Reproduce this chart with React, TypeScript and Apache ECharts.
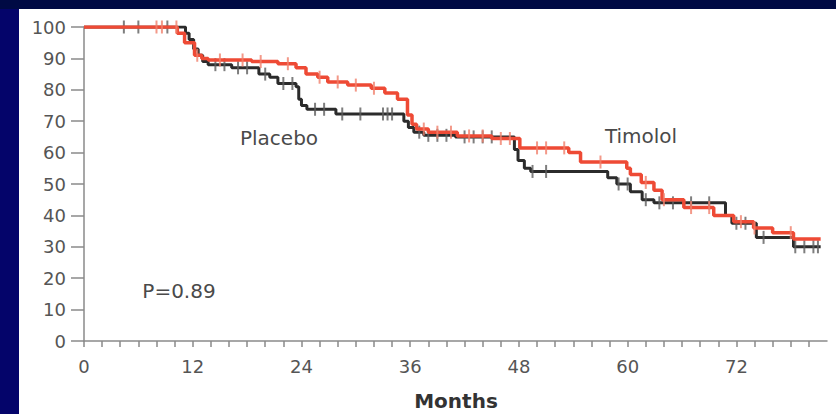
import React, { useEffect, useRef } from "react";
import * as echarts from "echarts";

// Kaplan-Meier steps: [month, % event-free]
const placeboSteps: [number, number][] = [
  [0, 100], [11.2, 98], [11.6, 96], [12.1, 93], [12.6, 91], [13.1, 89], [13.7, 88],
  [16.3, 87], [19.3, 85], [20.5, 84], [21.4, 82], [23.4, 81], [23.7, 77], [24.0, 75],
  [24.6, 73.8], [27.8, 72.3], [35.3, 70], [35.8, 68], [36.4, 66.5], [37.5, 65.5],
  [41, 65], [47.5, 61], [47.9, 57.5], [48.6, 55], [49.3, 54], [57.8, 52], [58.8, 50],
  [60.3, 47.5], [61.6, 45], [62.9, 44], [70.8, 40], [71.5, 37.5], [74.2, 33],
  [78.3, 30], [81.3, 30],
];

const timololSteps: [number, number][] = [
  [0, 100], [10.3, 98], [11.1, 95], [12.2, 91], [13, 90], [13.7, 89.5], [18.5, 89],
  [21.4, 88.3], [23.4, 87], [24.5, 85], [25.8, 84], [26.9, 82.5], [29.1, 81.5],
  [31.7, 80.5], [33.2, 79], [34.6, 77], [35.7, 72], [36.2, 69], [36.7, 67.5],
  [38, 66.5], [41.2, 65.3], [45, 64.5], [48.1, 61.5], [53.5, 60], [54.8, 57],
  [59.9, 55], [60.3, 53], [61.5, 50.5], [62.9, 48], [63.8, 45], [66.2, 42.5],
  [69.5, 40], [71.7, 38], [73.9, 36], [76, 34.5], [78.3, 32.5], [81.3, 32.5],
];

// censoring times (months)
const placeboCensored: number[] = [
  4.4, 6, 9.2, 14.5, 15.5, 17, 18, 20, 22, 23, 25.5, 26.5, 28.5, 30.5, 33, 33.5, 34,
  37, 38, 39, 40, 42, 43, 44, 45, 49.5, 51, 59, 60, 62, 63.5, 65, 67, 69, 72, 73,
  75, 78.5, 79.5, 80.5, 81,
];
const timololCensored: number[] = [
  8, 8.6, 10.2, 12.5, 15, 17.5, 19.5, 22.5, 26, 28, 30, 32, 37.5, 39, 40.5, 42.5,
  44, 46, 47, 50, 51, 53, 57, 62, 64, 67, 69, 72.5, 74, 78,
];

const xLabelMonths = [0, 12, 24, 36, 48, 60, 72];

const valueAt = (steps: [number, number][], t: number) => {
  let v = steps[0][1];
  for (const [m, s] of steps) {
    if (m <= t) v = s;
    else break;
  }
  return v;
};

export default function App() {
  const ref = useRef<HTMLDivElement>(null);
  useEffect(() => {
    const chart = echarts.init(ref.current!, null, { renderer: "svg" });
    const font = "DejaVu Sans";
    chart.setOption({
      animation: false,
      backgroundColor: "#ffffff",
      textStyle: { fontFamily: font },
      grid: { left: 84, right: 9, top: 27, bottom: 73 },
      xAxis: {
        type: "value",
        min: 0,
        max: 82,
        interval: 2,
        axisLine: { lineStyle: { color: "#8a8a8a", width: 1.5 } },
        axisTick: { length: 6, lineStyle: { color: "#8a8a8a", width: 1.5 } },
        splitLine: { show: false },
        axisLabel: {
          margin: 16,
          color: "#555",
          fontSize: 18,
          fontFamily: font,
          showMaxLabel: false,
          formatter: (v: number) => (xLabelMonths.includes(v) ? String(v) : ""),
        },
      },
      yAxis: {
        type: "value",
        min: 0,
        max: 100,
        interval: 10,
        axisLine: { show: true, lineStyle: { color: "#8a8a8a", width: 1.5 } },
        axisTick: { show: true, length: 13, lineStyle: { color: "#8a8a8a", width: 1.5 } },
        splitLine: { show: false },
        axisLabel: { margin: 18, color: "#555", fontSize: 18, fontFamily: font },
      },
      graphic: [
        { type: "rect", z: 100, shape: { x: 0, y: 0, width: 19, height: 414 }, style: { fill: "#04046a" } },
        { type: "rect", z: 100, shape: { x: 0, y: 0, width: 836, height: 9 }, style: { fill: "#000a44" } },
        { type: "text", x: 279, y: 138, style: { text: "Placebo", fill: "#4a4a4a", font: `20px ${font}`, textAlign: "center", textVerticalAlign: "middle" } },
        { type: "text", x: 641, y: 136, style: { text: "Timolol", fill: "#4a4a4a", font: `20px ${font}`, textAlign: "center", textVerticalAlign: "middle" } },
        { type: "text", x: 179, y: 291, style: { text: "P=0.89", fill: "#4a4a4a", font: `20px ${font}`, textAlign: "center", textVerticalAlign: "middle" } },
        { type: "text", x: 456, y: 401, style: { text: "Months", fill: "#333", font: `bold 20px ${font}`, textAlign: "center", textVerticalAlign: "middle" } },
      ],
      series: [
        {
          name: "Placebo",
          type: "line",
          step: "end",
          data: placeboSteps,
          showSymbol: false,
          lineStyle: { color: "#2b2b2b", width: 3 },
          z: 2,
        },
        {
          name: "Placebo censored",
          type: "scatter",
          data: placeboCensored.map((t) => [t, valueAt(placeboSteps, t)]),
          symbol: "rect",
          symbolSize: [2, 13],
          itemStyle: { color: "#5e5e5e" },
          z: 3,
        },
        {
          name: "Timolol",
          type: "line",
          step: "end",
          data: timololSteps,
          showSymbol: false,
          lineStyle: { color: "#ee4a35", width: 3.5 },
          z: 4,
        },
        {
          name: "Timolol censored",
          type: "scatter",
          data: timololCensored.map((t) => [t, valueAt(timololSteps, t)]),
          symbol: "rect",
          symbolSize: [2, 13],
          itemStyle: { color: "#f07f6c" },
          z: 5,
        },
      ],
    });
    return () => chart.dispose();
  }, []);
  return (
    <div
      ref={ref}
      style={{ position: "fixed", left: 0, top: 0, width: 836, height: 414 }}
    />
  );
}
